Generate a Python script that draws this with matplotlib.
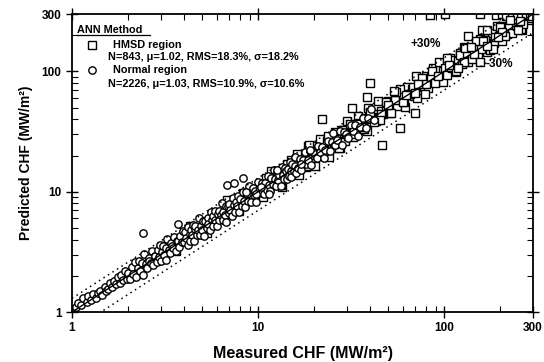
import matplotlib
matplotlib.use("Agg")
import matplotlib.pyplot as plt
from matplotlib.ticker import FixedLocator, NullFormatter

plt.rcParams['font.family'] = ['Liberation Sans', 'DejaVu Sans']

# ANN predictions, normal region (circles)
normal_measured = [
    1.05, 1.08, 1.12, 1.15, 1.2, 1.22, 1.27, 1.3, 1.34, 1.38, 1.42, 1.45, 1.5,
    1.53, 1.57, 1.6, 1.64, 1.68, 1.72, 1.76, 1.8, 1.84, 1.88, 1.93, 1.97,
    2.0, 2.05, 2.1, 2.12, 2.18, 2.2, 2.25, 2.3, 2.33, 2.38, 2.4, 2.45, 2.5,
    2.52, 2.58, 2.6, 2.65, 2.7, 2.72, 2.78, 2.8, 2.85, 2.9, 2.93, 2.98, 3.0,
    3.05, 3.1, 3.12, 3.18, 3.2, 3.25, 3.3, 3.35, 3.4, 3.45, 3.5, 3.55, 3.6,
    3.65, 3.7, 3.75, 3.8, 3.88, 3.95, 2.4, 3.7,
    4.0, 4.05, 4.1, 4.18, 4.2, 4.28, 4.3, 4.38, 4.4, 4.48, 4.5, 4.58, 4.6,
    4.68, 4.75, 4.8, 4.88, 4.95, 5.0, 5.08, 5.15, 5.2, 5.28, 5.35, 5.4, 5.5,
    5.55, 5.62, 5.7, 5.75, 5.85, 5.9, 6.0, 6.08, 6.15, 6.2, 6.3, 6.38, 6.45,
    6.5, 6.6, 6.7, 6.75, 6.85, 6.95, 7.0, 7.1, 7.2, 7.3, 7.4, 7.5, 7.6, 7.7,
    7.8, 7.9, 6.8, 7.4, 8.3,
    8.0, 8.15, 8.3, 8.4, 8.55, 8.7, 8.8, 8.95, 9.1, 9.2, 9.35, 9.5, 9.65,
    9.8, 9.95, 10.1, 10.3, 10.45, 10.6, 10.8, 10.95, 11.1, 11.3, 11.45, 11.6,
    11.8, 12.0, 12.15, 12.3, 12.5, 12.7, 12.85, 13.0, 13.2, 13.4, 13.55, 13.7,
    13.9, 14.1, 14.25, 14.4, 14.6, 14.8, 14.95, 15.1, 15.3, 15.5, 15.7, 15.85,
    16.0, 8.6, 9.7, 10.4, 11.5, 12.6,
    16.3, 16.7, 17.0, 17.4, 17.8, 18.1, 18.5, 18.9, 19.3, 19.7, 20.1, 20.6,
    21.0, 21.5, 22.0, 22.5, 23.0, 23.6, 24.2, 24.8, 25.4, 26.0, 26.7, 27.4,
    28.1, 28.9, 29.7, 30.5, 31.4, 32.3, 33.3, 34.3, 35.4, 36.6, 37.8, 39.0,
    40.5, 42.0, 16.9, 19.0,
]
normal_predicted = [
    1.1, 1.2, 1.15, 1.3, 1.22, 1.35, 1.25, 1.4, 1.3, 1.45, 1.5, 1.38, 1.62,
    1.5, 1.55, 1.75, 1.6, 1.8, 1.7, 1.95, 1.75, 2.05, 1.85, 2.2, 1.9,
    2.1, 1.89, 2.35, 2.08, 2.62, 1.94, 2.32, 2.65, 2.21, 2.57, 2.04, 3.06, 2.5,
    2.34, 2.84, 2.65, 2.57, 3.19, 2.45, 2.95, 2.94, 2.62, 3.25, 2.87, 3.58, 2.64,
    3.14, 3.57, 2.96, 3.43, 2.72, 4.06, 3.3, 3.12, 3.74, 3.52, 3.4, 4.19, 3.24,
    3.87, 3.89, 3.45, 4.26, 3.8, 4.74, 4.5, 5.4,
    3.8, 4.62, 4.1, 3.64, 5.12, 4.45, 3.91, 4.77, 4.36, 5.24, 3.87, 4.9, 5.15,
    4.4, 4.8, 6.05, 4.39, 5.2, 4.85, 5.74, 4.27, 5.72, 5.02, 6.1, 5.4, 4.79,
    6.77, 5.84, 5.19, 6.27, 5.79, 6.9, 5.16, 6.51, 6.89, 5.83, 6.36, 8.04, 5.81,
    6.83, 6.4, 7.57, 5.6, 7.54, 6.6, 7.98, 7.1, 6.26, 8.91, 7.7, 6.83, 8.28, 7.62,
    9.13, 6.79, 11.3, 11.9, 13.0,
    8.64, 7.58, 9.88, 8.4, 7.52, 9.66, 8.45, 11.1, 9.37, 8.28, 10.75, 9.31, 10.23,
    8.23, 11.94, 10.2, 9.68, 11.81, 11.13, 9.61, 11.83, 10.32, 13.45, 11.45, 10.21,
    13.1, 11.52, 15.07, 12.67, 11.25, 14.6, 12.59, 13.78, 11.09, 16.08, 13.69, 12.88,
    15.71, 14.8, 12.68, 15.55, 13.58, 17.61, 14.95, 13.29, 16.98, 14.88, 19.47, 16.33,
    14.4, 9.89, 9.51, 11.02, 9.66, 15.12,
    15.81, 18.7, 15.3, 18.27, 21.36, 17.01, 18.5, 21.92, 16.79, 21.47, 20.5, 18.95,
    23.94, 21.29, 23.54, 19.13, 22.31, 26.43, 21.78, 26.04, 30.48, 24.44, 26.7, 31.78,
    24.45, 31.5, 30.29, 28.06, 35.8, 31.98, 35.63, 29.16, 34.34, 40.99, 34.02, 40.95,
    48.6, 39.48, 16.9, 22.04,
]

# ANN predictions, HMSD region (squares)
hmsd_measured = [
    3.2, 3.6, 3.9, 4.3, 4.7, 5.0, 5.3, 5.7, 6.0, 6.4, 6.8, 7.1, 7.5, 7.9, 8.3,
    8.7, 9.0, 9.4, 9.7, 9.9,
    10.2, 10.6, 11.0, 11.4, 11.8, 12.2, 12.6, 13.0, 13.5, 14.0, 14.5, 15.0, 15.5,
    16.0, 16.5, 17.0, 17.5, 18.0, 18.5, 19.0, 19.5, 20.0, 20.5, 21.0, 21.6, 22.2,
    22.8, 23.4, 24.0, 24.6, 25.2, 25.8, 26.4, 27.0, 27.6, 28.2, 28.8, 29.4, 29.9,
    10.8, 12.0, 13.2, 14.3, 15.2, 16.2, 17.3, 18.3, 19.3, 20.3, 21.3, 22.5, 23.7,
    24.9, 26.1, 27.3, 28.5, 29.6, 11.5, 18.8, 25.5,
    30.5, 31.5, 32.5, 33.5, 34.5, 35.5, 36.5, 37.5, 38.5, 39.5, 40.5, 41.7, 43.0,
    44.3, 45.6, 47.0, 48.4, 49.8, 51.3, 52.8, 54.4, 56.0, 57.7, 59.4, 61.2, 63.0,
    64.9, 66.8, 68.8, 70.9, 73.0, 75.2, 77.4, 79.7, 82.1, 84.6, 87.1, 89.7, 92.4,
    95.2, 98.0, 31.0, 33.0, 35.0, 37.0, 39.0, 41.0, 43.5, 46.0, 48.8, 51.6, 54.6,
    57.8, 61.0, 64.4, 68.0, 71.8, 75.8, 80.0, 84.4, 89.0, 94.0, 99.0, 32.0, 36.0,
    40.0, 45.0, 50.0, 55.0, 60.0, 65.5, 72.0, 78.5, 86.0, 93.0, 34.0, 42.2, 53.5,
    62.0, 70.0,
    101, 104, 107, 110, 113, 116, 119, 122, 125, 128, 131, 135, 139, 143, 147,
    151, 155, 160, 165, 170, 175, 180, 186, 192, 198, 204, 210, 217, 224, 231,
    238, 246, 254, 262, 270, 280, 290, 103, 109, 115, 121, 127, 133, 141, 149,
    157, 166, 176, 188, 200, 213, 227, 242, 258, 275, 292, 106, 118, 130, 145,
    162, 182, 205, 235, 265, 285, 195, 250, 140, 170,
    190, 205, 215, 230, 245, 260, 275, 288, 298, 225, 255, 84, 101, 156,
    134, 160, 170, 156, 46.3, 57.9, 69.7, 40, 38.5, 32, 22,
]
hmsd_predicted = [
    3.52, 3.24, 4.1, 5.16, 4.47, 5.0, 4.5, 6.56, 6.12, 5.89, 8.5, 6.89, 8.1, 6.95,
    9.79, 8.7, 8.37, 10.53, 9.51, 10.49,
    10.61, 9.12, 12.98, 10.83, 14.99, 12.2, 11.34, 14.56, 10.94, 15.12, 14.07, 18.3,
    14.42, 16.96, 13.86, 19.55, 17.68, 16.02, 24.05, 18.62, 20.28, 17.2, 24.19, 19.95,
    27.43, 22.2, 20.52, 26.21, 19.44, 26.57, 24.44, 31.48, 24.55, 28.62, 23.18, 32.43,
    29.09, 26.17, 38.87, 10.58, 12.48, 11.35, 16.87, 14.44, 20.57, 17.3, 16.47, 21.62,
    16.44, 23.0, 21.83, 28.91, 23.16, 27.67, 22.93, 32.78, 29.9, 10.24, 24.44, 24.99,
    29.28, 35.91, 28.6, 35.18, 42.44, 32.66, 36.5, 41.25, 31.96, 46.22, 40.1, 44.62,
    38.7, 56.7, 46.51, 44.18, 46.46, 56.77, 45.14, 55.44, 66.91, 51.52, 57.7, 65.34,
    50.8, 73.71, 64.25, 71.48, 61.92, 90.75, 74.46, 70.69, 74.3, 90.86, 72.25, 88.83,
    107.13, 82.52, 92.4, 104.72, 81.34, 36.27, 32.67, 37.45, 33.3, 49.92, 41.82,
    40.89, 44.16, 55.63, 45.41, 57.33, 71.09, 56.12, 64.4, 74.8, 59.59, 88.69, 79.2,
    90.31, 80.1, 120.32, 100.98, 30.08, 34.56, 45.6, 39.6, 52.5, 67.65, 55.2, 65.5,
    79.2, 65.16, 100.62, 92.07, 36.38, 37.98, 68.48, 63.24, 65.8,
    107.1, 93.6, 128.4, 106.7, 124.3, 98.6, 122.6, 141.5, 116.3, 160, 131, 118.8,
    157.1, 135.9, 155.8, 135.9, 186, 155.2, 181.5, 144.5, 180.3, 208.8, 173, 240,
    198, 179.5, 237.3, 206.2, 237.4, 207.9, 285.6, 238.6, 279.4, 222.7, 278.1, 324.8,
    269.7, 128.8, 109, 101.2, 136.7, 120.7, 141, 126.9, 178.8, 152.3, 182.6, 149.6,
    193.6, 232, 198.1, 283.8, 242, 227, 310.8, 277.4, 112.4, 106.2, 156, 140.7,
    178.2, 154.7, 211.2, 272.6, 246.5, 356, 195, 220, 158.2, 161.5,
    295, 298, 290, 300, 296, 299, 293, 297, 290, 270, 262, 295, 298, 300,
    197, 221, 221, 120, 24.4, 33.9, 45.1, 80, 61, 49.6, 40,
]

line_x = [1, 300]
upper_factor = 1.3
lower_factor = 0.7

fig = plt.figure(figsize=(5.44, 3.62), dpi=100)
ax = fig.add_axes([0.1324, 0.138, 0.8474, 0.8233])

mk = dict(ms=5.3, mfc='white', mec='black', mew=1.0)
ax.plot(hmsd_measured, hmsd_predicted, 's', **mk)
ax.plot(normal_measured, normal_predicted, 'o', **mk)

ax.plot(line_x, line_x, color='black', lw=1.0)
ax.plot(line_x, [v * upper_factor for v in line_x], color='black', lw=1.1, ls=(0, (1, 2.5)))
ax.plot(line_x, [v * lower_factor for v in line_x], color='black', lw=1.1, ls=(0, (1, 2.5)))

ax.set_xscale('log')
ax.set_yscale('log')
ax.set_xlim(1, 300)
ax.set_ylim(1, 300)

major = [1, 10, 100, 300]
minor = [2, 3, 4, 5, 6, 7, 8, 9, 20, 30, 40, 50, 60, 70, 80, 90, 200]
for axis in (ax.xaxis, ax.yaxis):
    axis.set_major_locator(FixedLocator(major))
    axis.set_minor_locator(FixedLocator(minor))
    axis.set_minor_formatter(NullFormatter())
ax.set_xticklabels(['1', '10', '100', '300'])
ax.set_yticklabels(['1', '10', '100', '300'])
ax.tick_params(which='major', direction='inout', length=8, width=1.0,
               top=True, right=True, labelsize=8.5)
ax.tick_params(which='minor', direction='in', length=4, width=0.8,
               top=True, right=True)
for lab in ax.get_xticklabels() + ax.get_yticklabels():
    lab.set_fontweight('bold')
for s in ax.spines.values():
    s.set_linewidth(1.3)

ax.set_xlabel('Measured CHF (MW/m²)', fontsize=11.5, fontweight='bold', labelpad=8)
ax.set_ylabel('Predicted CHF (MW/m²)', fontsize=10, fontweight='bold', labelpad=6)

# legend block
fs = 7.8
ax.text(0.011, 0.946, 'ANN Method', transform=ax.transAxes, fontsize=fs,
        fontweight='bold', va='center', ha='left')
ax.plot([0.011, 0.17], [0.928, 0.928], transform=ax.transAxes, color='black', lw=0.9)
ax.plot([0.043], [0.896], 's', transform=ax.transAxes, **mk)
ax.text(0.089, 0.896, 'HMSD region', transform=ax.transAxes, fontsize=fs,
        fontweight='bold', va='center')
ax.text(0.078, 0.856, 'N=843, μ=1.02, RMS=18.3%, σ=18.2%', transform=ax.transAxes,
        fontsize=fs, fontweight='bold', va='center')
ax.plot([0.043], [0.812], 'o', transform=ax.transAxes, **mk)
ax.text(0.089, 0.812, 'Normal region', transform=ax.transAxes, fontsize=fs,
        fontweight='bold', va='center')
ax.text(0.078, 0.765, 'N=2226, μ=1.03, RMS=10.9%, σ=10.6%', transform=ax.transAxes,
        fontsize=fs, fontweight='bold', va='center')

ax.text(0.768, 0.899, '+30%', transform=ax.transAxes, fontsize=8.5,
        fontweight='bold', ha='center', va='center')
ax.text(0.926, 0.832, '-30%', transform=ax.transAxes, fontsize=8.5,
        fontweight='bold', ha='center', va='center')

fig.savefig('out.png', dpi=100)
